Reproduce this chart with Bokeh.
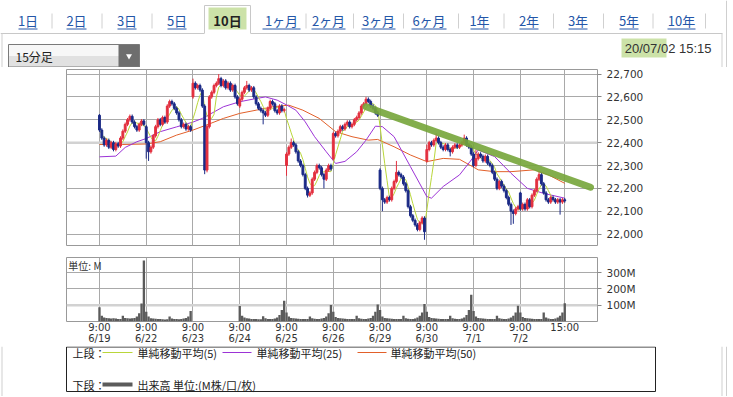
import numpy as np
import pandas as pd
from bokeh.plotting import figure
from bokeh.layouts import column
from bokeh.models import (Range1d, FixedTicker, NumeralTickFormatter, PrintfTickFormatter,
                          Span, Label, ColumnDataSource)
from bokeh.core.properties import value
from bokeh.embed import file_html
from bokeh.resources import INLINE

# ---------------- data ----------------
days = ["6/19", "6/22", "6/23", "6/24", "6/25", "6/26", "6/29", "6/30", "7/1", "7/2"]
BARS = 20  # 15-minute bars per session

day_open = [22520, 22470, 22600, 22560, 22300, 22330, 22280, 22320, 22350, 22180]

close_0619 = [22455, 22420, 22390, 22410, 22380, 22400, 22370, 22395, 22385, 22420,
              22450, 22480, 22500, 22515, 22490, 22470, 22455, 22480, 22495, 22480]
close_0622 = [22400, 22360, 22380, 22430, 22470, 22500, 22480, 22510, 22490, 22560,
              22580, 22570, 22550, 22530, 22500, 22470, 22480, 22460, 22470, 22455]
close_0623 = [22660, 22640, 22650, 22630, 22560, 22280, 22470, 22600, 22620, 22650,
              22660, 22680, 22650, 22670, 22640, 22660, 22630, 22650, 22600, 22570]
close_0624 = [22590, 22620, 22640, 22650, 22630, 22640, 22600, 22570, 22550, 22540,
              22530, 22520, 22550, 22580, 22570, 22540, 22530, 22560, 22540, 22545]
close_0625 = [22350, 22380, 22400, 22390, 22360, 22320, 22300, 22260, 22200, 22170,
              22180, 22240, 22270, 22300, 22290, 22260, 22240, 22280, 22300, 22285]
close_0626 = [22440, 22430, 22450, 22470, 22460, 22480, 22490, 22470, 22480, 22500,
              22510, 22530, 22560, 22570, 22590, 22580, 22560, 22550, 22530, 22520]
close_0629 = [22200, 22150, 22140, 22160, 22150, 22200, 22230, 22270, 22260, 22250,
              22220, 22190, 22120, 22080, 22060, 22040, 22020, 22050, 22070, 22010]
close_0630 = [22370, 22400, 22390, 22410, 22420, 22400, 22380, 22370, 22390, 22370,
              22360, 22380, 22390, 22380, 22390, 22400, 22420, 22390, 22380, 22350]
close_0701 = [22300, 22330, 22350, 22340, 22320, 22340, 22310, 22300, 22270, 22240,
              22200, 22230, 22210, 22190, 22160, 22130, 22100, 22090, 22110, 22120]
close_0702 = [22110, 22130, 22110, 22150, 22120, 22170, 22190, 22240, 22260, 22220,
              22180, 22150, 22140, 22160, 22150, 22140, 22150, 22140, 22150, 22145]

high_marks = {0: 22525, 40: 22680, 51: 22700, 63: 22670, 82: 22418, 114: 22600, 127: 22320,
              140: 22390, 144: 22440, 156: 22435, 161: 22370, 180: 22185, 188: 22275}
low_marks = {20: 22330, 21: 22320, 45: 22262, 46: 22270, 70: 22480, 80: 22255, 89: 22160,
             96: 22200, 121: 22100, 139: 21975, 150: 22340, 176: 22040, 177: 22045, 197: 22085}
wick = 8

# volume, millions of shares
vol_0619 = [87, 35, 25, 22, 20, 18, 20, 18, 16, 15, 35, 22, 20, 18, 20, 22, 30, 50, 110, 375]
vol_0622 = [60, 30, 20, 18, 17, 15, 15, 14, 13, 14, 30, 18, 15, 15, 14, 15, 18, 22, 30, 65]
vol_0623 = [0, 0, 0, 0, 0, 0, 0, 0, 0, 0, 0, 0, 0, 0, 0, 0, 0, 0, 0, 0]
vol_0624 = [95, 35, 25, 20, 18, 16, 15, 15, 14, 14, 32, 20, 16, 15, 16, 18, 25, 40, 70, 128]
vol_0625 = [55, 30, 22, 20, 18, 17, 16, 16, 15, 15, 30, 20, 17, 16, 16, 18, 22, 30, 50, 102]
vol_0626 = [60, 28, 22, 20, 18, 17, 16, 15, 15, 15, 35, 20, 17, 16, 16, 18, 22, 35, 60, 104]
vol_0629 = [70, 30, 22, 20, 18, 17, 16, 15, 15, 15, 35, 20, 17, 16, 16, 18, 24, 35, 55, 108]
vol_0630 = [60, 28, 22, 20, 18, 17, 16, 15, 15, 15, 35, 20, 17, 16, 16, 18, 25, 40, 70, 164]
vol_0701 = [65, 30, 22, 20, 18, 17, 16, 15, 15, 15, 35, 20, 17, 16, 16, 18, 24, 35, 55, 97]
vol_0702 = [55, 28, 22, 20, 18, 17, 16, 15, 15, 15, 56, 25, 18, 16, 16, 18, 24, 35, 55, 112]

# moving averages (bar index, price)
ma25_x = [0, 7, 11, 16, 20, 26, 33, 40, 44, 53, 60, 67, 71, 76, 80, 84, 88, 92, 97, 101,
          105, 110, 114, 118, 121, 126, 133, 140, 142, 147, 154, 159, 162, 169, 176, 183, 190, 199]
ma25_y = [22338, 22341, 22379, 22404, 22418, 22448, 22469, 22490, 22506, 22557, 22579, 22593,
          22600, 22586, 22565, 22542, 22491, 22426, 22360, 22309, 22318, 22360, 22411, 22472,
          22470, 22426, 22295, 22164, 22157, 22208, 22259, 22324, 22368, 22339, 22266, 22200,
          22178, 22157]
ma50_x = [0, 10, 20, 26, 33, 40, 46, 53, 60, 67, 74, 81, 87, 94, 101, 108, 115, 119, 126,
          133, 140, 147, 154, 162, 169, 176, 186, 192, 199]
ma50_y = [22392, 22392, 22394, 22404, 22433, 22455, 22478, 22506, 22528, 22542, 22557, 22564,
          22542, 22506, 22448, 22426, 22411, 22414, 22382, 22346, 22317, 22331, 22327, 22281,
          22273, 22273, 22281, 22259, 22222]

# hand-drawn resistance line on the reference
trend_x = [114, 210]
trend_y = [22557, 22205]

price_ticks = [22000, 22100, 22200, 22300, 22400, 22500, 22600, 22700]
vol_ticks = [100, 200, 300]

tab_labels = ["1日", "2日", "3日", "5日", "10日", "1ヶ月", "2ヶ月", "3ヶ月", "6ヶ月",
              "1年", "2年", "3年", "5年", "10年"]
active_tab = "10日"

# ---------------- assemble ----------------
closes = (close_0619 + close_0622 + close_0623 + close_0624 + close_0625 + close_0626 +
          close_0629 + close_0630 + close_0701 + close_0702)
vols = (vol_0619 + vol_0622 + vol_0623 + vol_0624 + vol_0625 + vol_0626 +
        vol_0629 + vol_0630 + vol_0701 + vol_0702)
n = len(closes)
idx = list(range(n))
opens = []
for i in idx:
    opens.append(day_open[i // BARS] if i % BARS == 0 else closes[i - 1])
tops = [max(o, c) for o, c in zip(opens, closes)]
bots = [min(o, c) for o, c in zip(opens, closes)]
highs = [high_marks.get(i, t + wick) for i, t in enumerate(tops)]
lows = [low_marks.get(i, b - wick) for i, b in enumerate(bots)]
RED, BLUE = "#e3303f", "#1b2a86"
colors = [RED if c > o else BLUE for o, c in zip(opens, closes)]
ma5 = pd.Series(closes).rolling(5, min_periods=1).mean().tolist()

src = ColumnDataSource(dict(x=idx, top=tops, bottom=bots, high=highs, low=lows, color=colors))

day_ticks = [i * BARS for i in range(len(days))] + [n - 1]
xlab = {i * BARS: "9:00\n" + d for i, d in enumerate(days)}
xlab[n - 1] = "15:00"

GRID = "#a9a9a9"
AXFONT = "DejaVu Sans"
JP = "Noto Sans CJK JP"
W = 733
BL, BR = 66, 136
XR = Range1d(-14.1, 213)

# ---------------- header ----------------
h = figure(width=W, height=67, x_range=Range1d(0, W), y_range=Range1d(67, 0),
           output_backend="svg", toolbar_location=None, x_axis_location=None,
           y_axis_location=None, min_border=0, outline_line_color=None)
h.frame_align = False
h.grid.visible = False
tab_x0 = [18, 66, 117, 167, 214, 262, 311, 361, 411, 470, 519, 568, 619, 667]
tab_x1 = [37, 86, 136, 186, 240, 300, 345, 395, 446, 488, 538, 587, 638, 695]
h.segment(x0=[0, 250], y0=[33, 33], x1=[204, 722], y1=[33, 33], line_color="#c8c8c8")
h.quad(left=[204], right=[250], top=[5], bottom=[33.5], fill_color="white", line_color=None)
h.multi_line(xs=[[204, 204, 250, 250]], ys=[[33, 5, 5, 33]], line_color="#c8c8c8")
h.quad(left=[208], right=[246], top=[7], bottom=[29], fill_color="#c6df9f", line_color=None,
       fill_alpha=0.9)
seps = [51.5, 101.5, 151.5, 305.5, 353, 403, 458, 503.5, 553, 603, 652.5, 705]
h.segment(x0=seps, y0=[13] * len(seps), x1=seps, y1=[28] * len(seps), line_color="#d0d0d0")
for lab, a, b in zip(tab_labels, tab_x0, tab_x1):
    cx = (a + b) / 2
    if lab == active_tab:
        h.text(x=[cx], y=[20], text=[lab], text_align="center", text_baseline="middle",
               text_font=value(JP), text_font_size=value("13px"), text_font_style="bold",
               text_color="#222222")
    else:
        h.text(x=[cx], y=[20], text=[lab], text_align="center", text_baseline="middle",
               text_font=value(JP), text_font_size=value("13px"), text_color="#2456a8")
        h.segment(x0=[a], y0=[28.5], x1=[b], y1=[28.5], line_color="#2456a8")
# panel sides
h.segment(x0=[1.5, 721.5, 726], y0=[33, 33, 0], x1=[1.5, 721.5, 726], y1=[67, 67, 67],
          line_color="#cfcfcf")
# dropdown
h.quad(left=[8], right=[139], top=[44], bottom=[55.5], fill_color="#f7f7f7", line_color=None)
h.quad(left=[8], right=[139], top=[55.5], bottom=[66.5], fill_color="#e1e1e1", line_color=None)
h.quad(left=[118], right=[139], top=[44], bottom=[66.5], fill_color="#6e6e6e", line_color=None)
h.quad(left=[8], right=[139], top=[44], bottom=[66.5], fill_color=None, line_color="#7a7a7a")
h.scatter(x=[128.5], y=[55.5], marker="inverted_triangle", size=6, fill_color="white",
          line_color=None)
h.text(x=[15], y=[56], text=["15分足"], text_align="left", text_baseline="middle",
       text_font=value(JP), text_font_size=value("12px"), text_color="#222222")
# timestamp
h.quad(left=[621], right=[666], top=[38], bottom=[57], fill_color="#c6df9f", line_color=None,
       fill_alpha=0.9)
h.text(x=[711], y=[48], text=["20/07/02 15:15"], text_align="right", text_baseline="middle",
       text_font=value("Liberation Sans"), text_font_size=value("13px"), text_color="#333333")

# ---------------- price panel ----------------
p = figure(width=W, height=181, x_range=XR, y_range=Range1d(21950, 22720),
           output_backend="svg", toolbar_location=None, x_axis_location=None,
           y_axis_location="right", min_border_left=BL, min_border_right=BR,
           min_border_top=2, min_border_bottom=3, outline_line_color="#999999")
p.xgrid.ticker = FixedTicker(ticks=day_ticks)
p.ygrid.ticker = FixedTicker(ticks=[t for t in price_ticks if t != 22400])
p.grid.grid_line_color = GRID
p.add_layout(Span(location=22400, dimension="width", line_color="#d2d2d2", line_width=2.5,
                  level="underlay"))
p.yaxis.ticker = FixedTicker(ticks=price_ticks)
p.yaxis.formatter = NumeralTickFormatter(format="0,0")
for ax in p.yaxis:
    ax.axis_line_color = None
    ax.major_tick_in = 0
    ax.major_tick_out = 4
    ax.major_tick_line_color = "#888888"
    ax.minor_tick_line_color = None
    ax.major_label_text_font = AXFONT
    ax.major_label_text_font_size = "10.5px"
    ax.major_label_text_color = "#333333"
    ax.major_label_standoff = 5

p.line(ma50_x, ma50_y, line_color="#e2602a", line_width=1)
p.line(ma25_x, ma25_y, line_color="#9c33d6", line_width=1)
p.line(idx, ma5, line_color="#b9d63a", line_width=1)
p.segment(x0="x", y0="low", x1="x", y1="high", line_color="color", line_width=1, source=src)
p.vbar(x="x", width=0.8, top="top", bottom="bottom", fill_color="color", line_color="color",
       source=src)
p.line(trend_x, trend_y, line_color="#76a53a", line_width=7, line_alpha=0.9, line_cap="round")

# ---------------- volume panel ----------------
v = figure(width=W, height=98, x_range=XR, y_range=Range1d(0, 393),
           output_backend="svg", toolbar_location=None, x_axis_location="below",
           y_axis_location="right", min_border_left=BL, min_border_right=BR,
           min_border_top=9, min_border_bottom=22, outline_line_color="#999999")
v.xgrid.ticker = FixedTicker(ticks=day_ticks)
v.ygrid.ticker = FixedTicker(ticks=[200, 300])
v.grid.grid_line_color = GRID
v.add_layout(Span(location=100, dimension="width", line_color="#d2d2d2", line_width=2.5,
                  level="underlay"))
v.vbar(x=idx, top=vols, width=1.0, fill_color="#5b5b5b", line_color=None)
v.xaxis.ticker = FixedTicker(ticks=day_ticks)
v.xaxis.major_label_overrides = xlab
v.yaxis.ticker = FixedTicker(ticks=vol_ticks)
v.yaxis.formatter = PrintfTickFormatter(format="%dM")
for ax in v.xaxis:
    ax.axis_line_color = None
    ax.major_tick_out = 0
    ax.major_tick_in = 0
    ax.minor_tick_line_color = None
    ax.major_label_standoff = 0
    ax.major_label_text_font = AXFONT
    ax.major_label_text_font_size = "10px"
    ax.major_label_text_color = "#333333"
    ax.major_label_text_line_height = 1.0
for ax in v.yaxis:
    ax.axis_line_color = None
    ax.major_tick_in = 0
    ax.major_tick_out = 4
    ax.major_tick_line_color = "#888888"
    ax.minor_tick_line_color = None
    ax.major_label_text_font = AXFONT
    ax.major_label_text_font_size = "10.5px"
    ax.major_label_text_color = "#333333"
    ax.major_label_standoff = 5
v.add_layout(Label(x=-13.3, y=388, text="単位: M", text_baseline="top", text_align="left",
                   text_font=JP, text_font_size="10px", text_color="#333333"))

# ---------------- legend box ----------------
lg = figure(width=W, height=50, x_range=Range1d(0, W), y_range=Range1d(396, 346),
            output_backend="svg", toolbar_location=None, x_axis_location=None,
            y_axis_location=None, min_border=0, outline_line_color=None)
lg.frame_align = False
lg.grid.visible = False
lg.segment(x0=[1.5, 721.5, 726], y0=[346, 346, 346], x1=[1.5, 721.5, 726], y1=[396, 396, 396],
           line_color="#cfcfcf")
lg.quad(left=[66], right=[655], top=[346.5], bottom=[391], fill_color="white",
        line_color="#222222", line_width=1)
row1, row2 = 352, 384
lg.text(x=[72], y=[row1], text=["上段："], text_baseline="middle", text_font=value(JP),
        text_font_size=value("11px"), text_color="#222222")
lg.segment(x0=[102, 222, 357], y0=[row1] * 3, x1=[132, 251, 386], y1=[row1] * 3,
           line_color=["#b9d63a", "#9c33d6", "#e2602a"], line_width=1)
lg.text(x=[137, 256, 390], y=[row1] * 3,
        text=["単純移動平均(5)", "単純移動平均(25)", "単純移動平均(50)"],
        text_baseline="middle", text_font=value(JP), text_font_size=value("11px"),
        text_color="#222222")
lg.text(x=[72], y=[row2], text=["下段："], text_baseline="middle", text_font=value(JP),
        text_font_size=value("11px"), text_color="#222222")
lg.segment(x0=[102], y0=[row2], x1=[132], y1=[row2], line_color="#5b5b5b", line_width=4)
lg.text(x=[137], y=[row2], text=["出来高 単位:(M株/口/枚)"], text_baseline="middle",
        text_font=value(JP), text_font_size=value("11px"), text_color="#222222")

layout = column(h, p, v, lg, spacing=0)
open("out.html", "w").write(file_html(layout, INLINE))
